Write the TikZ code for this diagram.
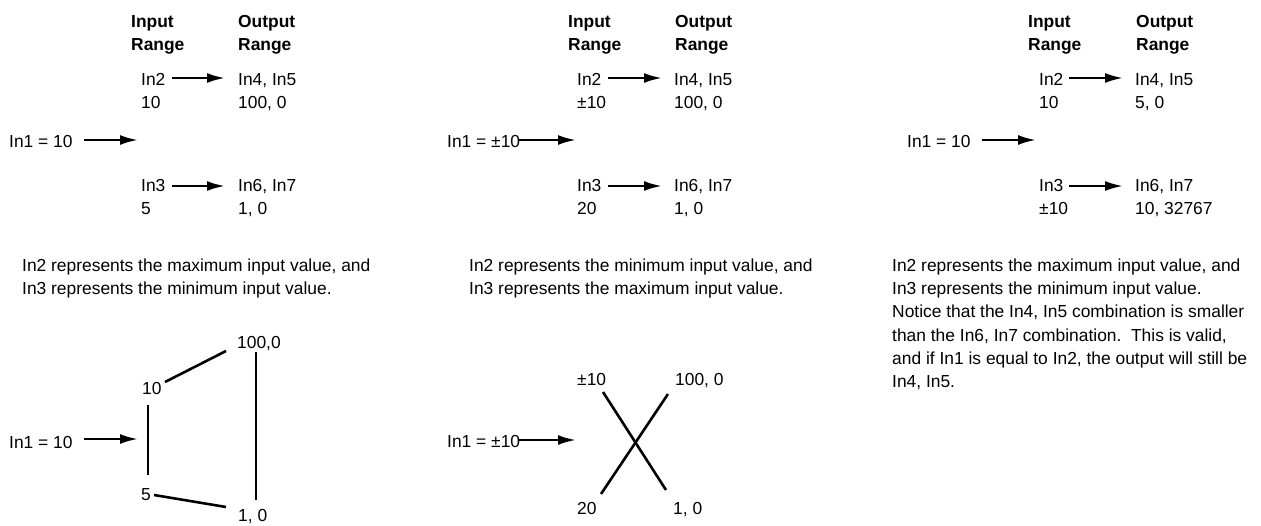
\documentclass[tikz,border=0pt]{standalone}
\usepackage{fontspec}
\setmainfont{Liberation Sans}
\usetikzlibrary{arrows.meta}
\begin{document}
\begin{tikzpicture}[x=1pt,y=-1pt,
  txt/.style={anchor=base west,inner sep=0pt,font=\fontsize{17.4}{23.3}\selectfont},
  hdr/.style={anchor=base west,inner sep=0pt,font=\fontsize{17.4}{23.3}\selectfont\bfseries},
  arr/.style={-{Latex[length=18pt,width=10pt]},line width=2.4pt},
  seg/.style={line width=2.6pt}]
\useasboundingbox (0,0) rectangle (1261,525);

% ---------------- Panel 1 ----------------
\node[hdr] (p1in)  at (131,27) {Input};
\node[hdr] (p1inr) at (131,50) {Range};
\node[hdr] (p1out) at (238,27) {Output};
\node[hdr] (p1outr) at (238,50) {Range};
\node[txt] (p1a) at (141,85) {In2};
\node[txt] (p1b) at (141,108) {10};
\node[txt] (p1c) at (238,85) {In4, In5};
\node[txt] (p1d) at (238,108) {100, 0};
\node[txt] (p1e) at (9,147) {In1 = 10};
\node[txt] (p1f) at (141,191) {In3};
\node[txt] (p1g) at (141,214) {5};
\node[txt] (p1h) at (238,191) {In6, In7};
\node[txt] (p1i) at (238,214) {1, 0};
\coordinate (p1a1) at (172,78);  \coordinate (p1a2) at (225,78);
\coordinate (p1b1) at (84,140);  \coordinate (p1b2) at (138,140);
\coordinate (p1c1) at (172,186); \coordinate (p1c2) at (225,186);
\draw[arr] (p1a1) -- (p1a2);
\draw[arr] (p1b1) -- (p1b2);
\draw[arr] (p1c1) -- (p1c2);
\node[txt] (p1p1) at (22,271) {In2 represents the maximum input value, and};
\node[txt] (p1p2) at (22,294) {In3 represents the minimum input value.};
% graph 1
\node[txt] (g1a) at (237,348) {100,0};
\node[txt] (g1b) at (142,394) {10};
\node[txt] (g1c) at (141,500) {5};
\node[txt] (g1d) at (238,521) {1, 0};
\node[txt] (g1e) at (9,448) {In1 = 10};
\coordinate (g1s1) at (84,439); \coordinate (g1s2) at (138,439);
\draw[arr] (g1s1) -- (g1s2);
\coordinate (g1l1) at (165,382); \coordinate (g1l2) at (226,351);
\coordinate (g1l3) at (148,405); \coordinate (g1l4) at (148,475);
\coordinate (g1l5) at (154,495); \coordinate (g1l6) at (226,507);
\coordinate (g1l7) at (256,352); \coordinate (g1l8) at (256,500);
\draw[seg] (g1l1) -- (g1l2);
\draw[seg] (g1l3) -- (g1l4);
\draw[seg] (g1l5) -- (g1l6);
\draw[seg] (g1l7) -- (g1l8);

% ---------------- Panel 2 ----------------
\node[hdr] (p2in)  at (568,27) {Input};
\node[hdr] (p2inr) at (568,50) {Range};
\node[hdr] (p2out) at (675,27) {Output};
\node[hdr] (p2outr) at (675,50) {Range};
\node[txt] (p2a) at (577,85) {In2};
\node[txt] (p2b) at (577,108) {±10};
\node[txt] (p2c) at (674,85) {In4, In5};
\node[txt] (p2d) at (674,108) {100, 0};
\node[txt] (p2e) at (447,147) {In1 = ±10};
\node[txt] (p2f) at (577,191) {In3};
\node[txt] (p2g) at (577,214) {20};
\node[txt] (p2h) at (674,191) {In6, In7};
\node[txt] (p2i) at (674,214) {1, 0};
\coordinate (p2a1) at (608,78);  \coordinate (p2a2) at (662,78);
\coordinate (p2b1) at (519,140); \coordinate (p2b2) at (576,140);
\coordinate (p2c1) at (608,186); \coordinate (p2c2) at (662,186);
\draw[arr] (p2a1) -- (p2a2);
\draw[arr] (p2b1) -- (p2b2);
\draw[arr] (p2c1) -- (p2c2);
\node[txt] (p2p1) at (469,271) {In2 represents the minimum input value, and};
\node[txt] (p2p2) at (469,294) {In3 represents the maximum input value.};
% graph 2
\node[txt] (g2a) at (577,385) {±10};
\node[txt] (g2b) at (675,385) {100, 0};
\node[txt] (g2c) at (577,514) {20};
\node[txt] (g2d) at (673,514) {1, 0};
\node[txt] (g2e) at (447,447) {In1 = ±10};
\coordinate (g2s1) at (519,440); \coordinate (g2s2) at (576,440);
\draw[arr] (g2s1) -- (g2s2);
\coordinate (g2l1) at (603,392); \coordinate (g2l2) at (666,490);
\coordinate (g2l3) at (668,394); \coordinate (g2l4) at (601,494);
\draw[seg] (g2l1) -- (g2l2);
\draw[seg] (g2l3) -- (g2l4);

% ---------------- Panel 3 ----------------
\node[hdr] (p3in)  at (1028,27) {Input};
\node[hdr] (p3inr) at (1028,50) {Range};
\node[hdr] (p3out) at (1136,27) {Output};
\node[hdr] (p3outr) at (1136,50) {Range};
\node[txt] (p3a) at (1039,85) {In2};
\node[txt] (p3b) at (1039,108) {10};
\node[txt] (p3c) at (1135,85) {In4, In5};
\node[txt] (p3d) at (1135,108) {5, 0};
\node[txt] (p3e) at (907,147) {In1 = 10};
\node[txt] (p3f) at (1039,191) {In3};
\node[txt] (p3g) at (1039,214) {±10};
\node[txt] (p3h) at (1135,191) {In6, In7};
\node[txt] (p3i) at (1135,214) {10, 32767};
\coordinate (p3a1) at (1069,78);  \coordinate (p3a2) at (1123,78);
\coordinate (p3b1) at (982,140);  \coordinate (p3b2) at (1036,140);
\coordinate (p3c1) at (1069,186); \coordinate (p3c2) at (1123,186);
\draw[arr] (p3a1) -- (p3a2);
\draw[arr] (p3b1) -- (p3b2);
\draw[arr] (p3c1) -- (p3c2);
\node[txt] (p3p1) at (892,271) {In2 represents the maximum input value, and};
\node[txt] (p3p2) at (892,294) {In3 represents the minimum input value.};
\node[txt] (p3p3) at (892,317) {Notice that the In4, In5 combination is smaller};
\node[txt] (p3p4) at (892,341) {than the In6, In7 combination.\ \ This is valid,};
\node[txt] (p3p5) at (892,364) {and if In1 is equal to In2, the output will still be};
\node[txt] (p3p6) at (892,387) {In4, In5.};
\end{tikzpicture}
\end{document}
